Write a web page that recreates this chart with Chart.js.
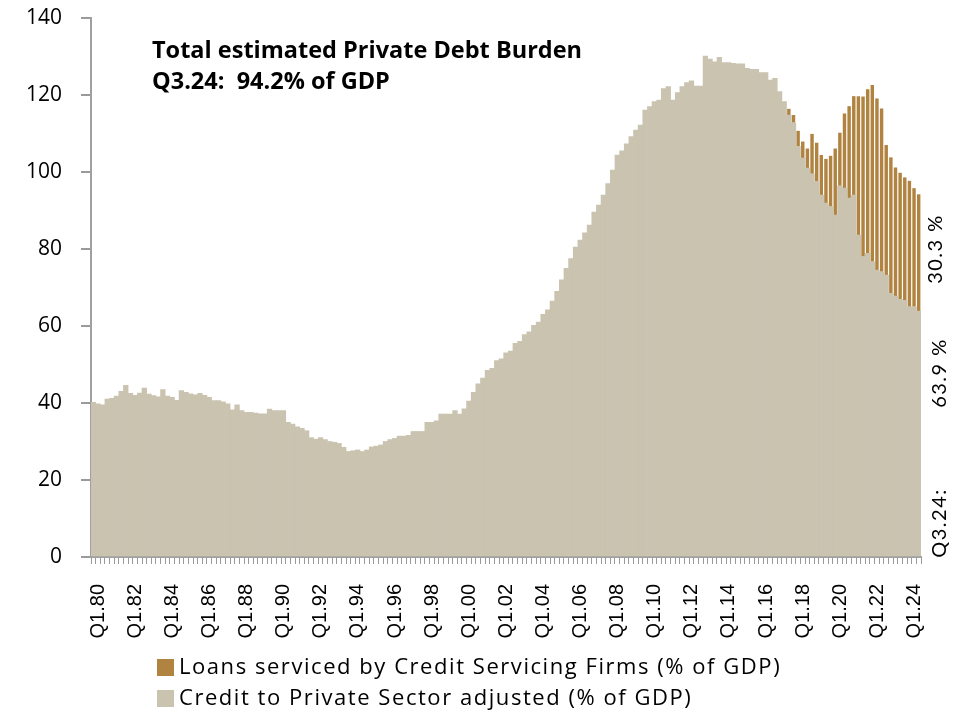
<!DOCTYPE html>
<html><head><meta charset="utf-8">
<script src="https://cdn.jsdelivr.net/npm/chart.js@4.4.1/dist/chart.umd.min.js"></script>
<style>html,body{margin:0;padding:0;background:#fff}#wrap{width:969px;height:714px;position:relative}</style>
</head><body><div id="wrap"><canvas id="c" width="969" height="714"></canvas></div>
<script>
// ---- DATA ----
const firstYear = 1980, lastYear = 2024, lastQuarter = 3;
const tickLabels = ['Q1.80','Q1.82','Q1.84','Q1.86','Q1.88','Q1.90','Q1.92','Q1.94','Q1.96','Q1.98','Q1.00','Q1.02','Q1.04','Q1.06','Q1.08','Q1.10','Q1.12','Q1.14','Q1.16','Q1.18','Q1.20','Q1.22','Q1.24'];
// Credit to Private Sector adjusted (% of GDP), quarterly Q1.80 .. Q3.24
const creditPrivate = [
  40.2,39.8,39.5,41.0, 41.2,41.8,43.0,44.6, 42.5,42.0,42.6,43.9, 42.3,41.9,41.6,43.5, // 80-83
  41.8,41.5,40.7,43.2, 42.8,42.4,42.1,42.5, 42.0,41.5,40.6,40.6, 40.3,39.8,38.2,39.5, // 84-87
  38.0,37.6,37.6,37.4, 37.2,37.2,38.4,38.0, 38.0,38.0,35.0,34.5, 33.8,33.4,32.8,31.0, // 88-91
  30.6,31.0,30.5,30.0, 29.8,29.5,28.5,27.4, 27.6,27.8,27.4,27.8, 28.6,28.8,29.1,30.0, // 92-95
  30.5,30.8,31.4,31.4, 31.6,32.6,32.6,32.6, 35.0,35.0,35.4,37.1, 37.1,37.1,38.0,37.1, // 96-99
  38.5,40.5,42.8,45.0, 46.5,48.5,49.0,51.0, 51.5,53.0,53.5,55.5, 56.0,57.8,58.5,60.2, // 00-03
  61.0,63.0,64.2,66.5, 69.0,72.0,75.0,77.5, 80.5,82.3,84.2,86.2, 89.6,91.4,94.0,97.0, // 04-07
  100.5,104.4,105.5,107.3, 109.2,110.9,112.2,116.1, 117.0,118.3,118.7,121.7, 122.2,118.7,120.6,122.2, // 08-11
  123.2,123.7,122.3,122.3, 130.1,129.3,128.6,129.8, 128.4,128.4,128.2,128.1, 128.1,126.9,126.7,126.7, // 12-15
  125.8,125.8,123.9,124.3, 120.9,118.3,114.8,112.8, 106.6,103.6,101.0,99.5, 97.5,94.0,91.9,91.0, // 16-19
  88.8,96.4,95.8,93.2, 94.0,83.6,78.0,78.9, 76.7,74.5,74.1,73.2, 68.5,67.8,66.9,66.6, // 20-23
  65.0,65.0,63.9 // 24
];
// Loans serviced by Credit Servicing Firms (% of GDP), from Q3.17 .. Q3.24
const loansStart = 'Q3.17';
const loansServiced = [
  1.6,2.0, 4.1,4.3,5.1,10.4, 10.1,10.4,11.5,13.2, 17.3,13.8,19.4,23.9,
  25.7,36.1,41.6,42.6, 45.9,44.6,42.4,33.8, 35.3,33.4,32.9,32.0, 32.7,30.8,30.3
];
const seriesNames = ['Credit to Private Sector adjusted (% of GDP)','Loans serviced by Credit Servicing Firms (% of GDP)'];
const titleLines = ['Total estimated Private Debt Burden','Q3.24:  94.2% of GDP'];
const sideNotes = ['30.3 %','63.9 %','Q3.24:'];

// ---- build table ----
const categories = [];
for (let y = firstYear; y <= lastYear; y++) {
  for (let q = 1; q <= 4; q++) {
    if (y === lastYear && q > lastQuarter) break;
    categories.push('Q' + q + '.' + String(y).slice(2));
  }
}
const ls = categories.indexOf(loansStart);
const loansFull = categories.map((c, i) => i >= ls ? loansServiced[i - ls] : null);

const GREY = '#C9C3B0', BROWN = '#B08340';

const overlay = {
  id: 'overlay',
  afterDraw(chart) {
    const ctx = chart.ctx;
    ctx.save();
    // title
    ctx.fillStyle = '#000';
    ctx.font = 'bold 23.5px "Open Sans"';
    ctx.textAlign = 'left';
    ctx.textBaseline = 'alphabetic';
    ctx.fillText(titleLines[0], 152, 58);
    ctx.fillText(titleLines[1], 152, 89);
    // side notes (rotated)
    const notes = [[sideNotes[0], 936, 249], [sideNotes[1], 940, 373], [sideNotes[2], 940, 523]];
    ctx.font = '20px Lato';
    ctx.letterSpacing = '1.5px';
    ctx.textAlign = 'center';
    ctx.textBaseline = 'middle';
    notes.forEach(([t, x, y]) => {
      ctx.save(); ctx.translate(x, y); ctx.rotate(-Math.PI / 2); ctx.fillText(t, 0, 0); ctx.restore();
    });
    // legend (reverse dataset order, as in the reference)
    const items = chart.data.datasets.slice().reverse();
    ctx.font = '22px "Open Sans"';
    ctx.letterSpacing = '1.55px';
    ctx.textAlign = 'left';
    ctx.textBaseline = 'middle';
    items.forEach((ds, k) => {
      const cy = 667 + k * 31;
      ctx.fillStyle = ds.backgroundColor;
      ctx.fillRect(157, cy - 8, 17, 17);
      ctx.fillStyle = '#000';
      ctx.fillText(ds.label, 179, cy + 1);
    });
    ctx.restore();
  }
};

new Chart(document.getElementById('c'), {
  type: 'bar',
  data: {
    labels: categories,
    datasets: [
      { label: seriesNames[0], data: creditPrivate, backgroundColor: GREY, barPercentage: 1, categoryPercentage: 1, borderWidth: 0, stack: 's' },
      { label: seriesNames[1], data: loansFull, backgroundColor: BROWN, barPercentage: 0.74, categoryPercentage: 1, borderWidth: 0, stack: 's' }
    ]
  },
  options: {
    responsive: false,
    animation: false,
    devicePixelRatio: 1,
    layout: { padding: { left: 0, right: 48, top: 18, bottom: 0 } },
    plugins: { legend: { display: false }, tooltip: { enabled: false } },
    scales: {
      x: {
        stacked: true,
        afterFit(s) { s.height = 157; },
        grid: { display: true, drawOnChartArea: false, drawTicks: true, tickLength: 7, color: '#9a9a9a', lineWidth: 1, offset: true },
        border: { display: true, color: '#a0a0a0', width: 2 },
        ticks: {
          autoSkip: false, maxRotation: 90, minRotation: 90, padding: 20, labelOffset: 5,
          color: '#000', font: { family: '"Liberation Sans"', size: 20 },
          callback(v, i) { const l = categories[i]; return tickLabels.includes(l) ? l : ''; }
        }
      },
      y: {
        stacked: true, min: 0, max: 140,
        afterFit(s) { s.width = 91; s.paddingTop = 0; s.paddingBottom = 0; },
        grid: { display: true, drawOnChartArea: false, drawTicks: true, tickLength: 10, color: '#9a9a9a', lineWidth: 2 },
        border: { display: true, color: '#a0a0a0', width: 2 },
        ticks: { stepSize: 20, padding: 19, color: '#000', font: { family: '"Open Sans"', size: 21 } }
      }
    }
  },
  plugins: [overlay]
});
</script></body></html>
